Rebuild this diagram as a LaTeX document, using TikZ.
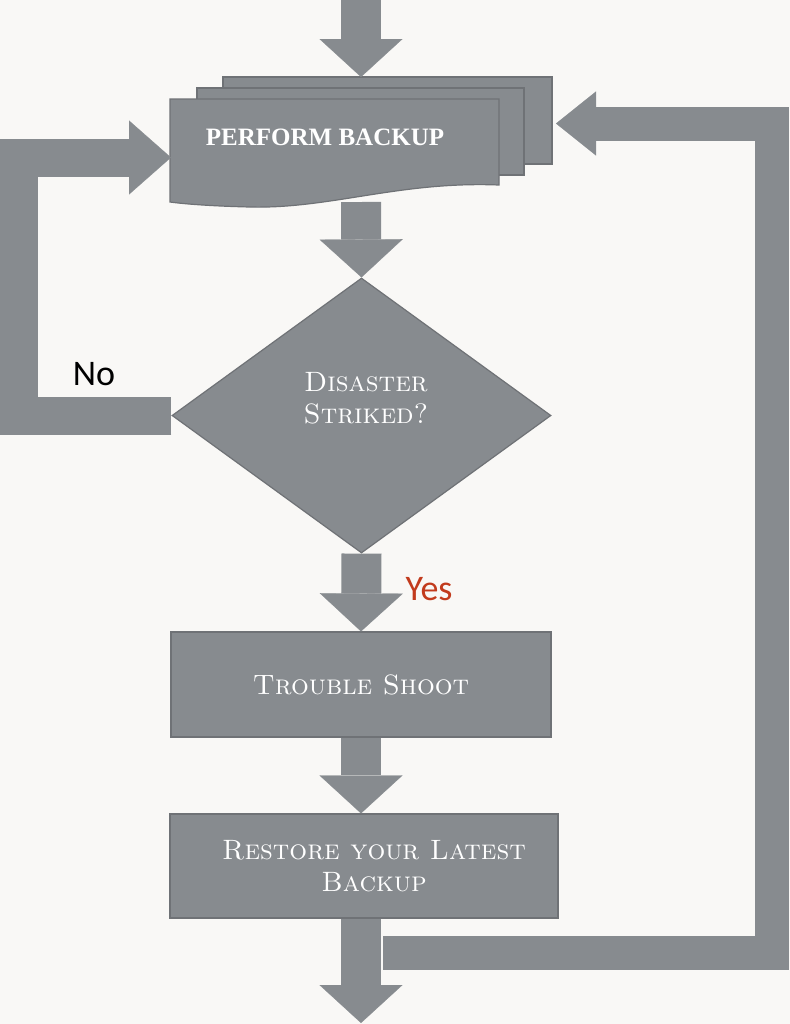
\documentclass[tikz,border=0pt]{standalone}
\usepackage{fontspec}
\usetikzlibrary{shapes.geometric,arrows.meta}
\newfontfamily\calibri{Carlito}
\newfontfamily\timesfont{Liberation Serif}
\definecolor{boxgray}{HTML}{878B8F}
\definecolor{edgegray}{HTML}{6F7276}
\definecolor{paper}{HTML}{F9F8F6}
\definecolor{yesred}{HTML}{C23B1D}

\begin{document}
\begin{tikzpicture}[
    x=0.5pt, y=-0.5pt,
    sheet/.style={fill=boxgray, draw=edgegray, line width=0.6pt},
    process/.style={rectangle, fill=boxgray, draw=edgegray, line width=0.6pt,
        text=white, align=center, font=\fontsize{14}{16}\selectfont\scshape},
    decision/.style={diamond, fill=boxgray, draw=edgegray, line width=0.6pt,
        inner sep=0pt},
    flow/.style={draw=boxgray, line width=20pt,
        -{Triangle[width=41.5pt, length=19pt, line width=0.1pt]}},
    loopl/.style={draw=boxgray, line width=19pt,
        -{Triangle[width=37pt, length=21pt, line width=0.1pt]}},
    loopr/.style={draw=boxgray, line width=17pt,
        -{Triangle[width=32pt, length=20pt, line width=0.1pt]}},
    answer/.style={font=\calibri\fontsize{18}{20}\selectfont}
]
\fill[paper] (0,0) rectangle (790,1024);
\useasboundingbox (0,0) rectangle (790,1024);

% stacked sheets for the backup step
\filldraw[sheet] (223,77) rectangle (552,164);
\filldraw[sheet] (197,88) rectangle (524,175);
\filldraw[sheet] (170,99) -- (499,99) -- (499,185)
    .. controls (400,181) and (330,209) .. (250,207)
    .. controls (210,206) and (185,204) .. (170,202) -- cycle;
\node[text=white, font=\timesfont\fontsize{12.5}{14}\selectfont\bfseries] (backup) at (325,137) {PERFORM BACKUP};

\coordinate (in) at (361,0);
\coordinate (backupT) at (361,77);
\coordinate (backupB) at (361,202);
\coordinate (backupL) at (171,157.5);
\coordinate (backupR) at (556,123.5);

\node[decision, minimum width=189.5pt, minimum height=137.5pt] (disaster) at (361.5,415.5) {};
\node[text=white, align=center, font=\fontsize{14}{16}\selectfont\scshape] (question) at (366,398) {Disaster\\Striked?};
\node[process, minimum width=190pt, minimum height=52.5pt] (trouble) at (361,684.5) {Trouble Shoot};
\node[process, minimum width=194pt, minimum height=52pt] (restore) at (364,866) {\hspace*{10pt}Restore your Latest\\\hspace*{10pt}Backup};

\coordinate (out) at (361,1023);
\coordinate (leftc) at (18.5,157.5);
\coordinate (rightc) at (772,123.5);
\coordinate (loopR) at (383,952.5);

% main flow
\draw[flow] (in) -- (backupT);
\draw[flow] (backupB) -- (disaster.north);
\draw[flow] (disaster.south) -- (trouble.north);
\draw[flow] (trouble.south) -- (trouble.south |- restore.north);
\draw[flow] (restore.south -| out) -- (out);

% loops back to the backup
\draw[loopl] (disaster.west) -| (leftc) -- (backupL);
\draw[loopr] (loopR) -| (rightc) -- (backupR);

\node[answer] (no) at (94,374) {No};
\node[answer, text=yesred] (yes) at (429,589) {Yes};
\end{tikzpicture}
\end{document}
